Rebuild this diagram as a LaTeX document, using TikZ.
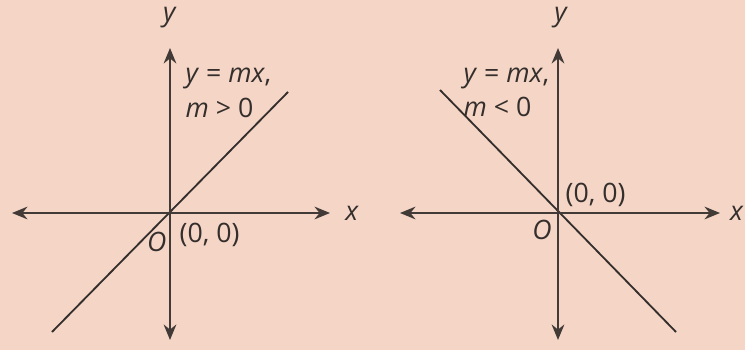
\documentclass[tikz,border=0pt]{standalone}
\usepackage{fontspec}
\setmainfont{Open Sans}
\usepackage{tikz}
\usetikzlibrary{arrows.meta, positioning}
\definecolor{peach}{RGB}{245,214,198}
\definecolor{axisgrey}{RGB}{66,58,55}
\definecolor{inkgrey}{RGB}{52,46,44}

\begin{document}
\begin{tikzpicture}[
    axis/.style={{Stealth[length=11pt,width=9pt]}-{Stealth[length=11pt,width=9pt]}, line width=1.6pt, draw=axisgrey},
    graph/.style={line width=1.3pt, draw=inkgrey},
    lbl/.style={font=\fontsize{19}{22}\selectfont, text=inkgrey, inner sep=1pt}
]
    \fill[peach] (0,0) rectangle (18.625,8.75);
    \useasboundingbox (0,0) rectangle (18.625,8.75);

    % m > 0
    \coordinate (o1) at (4.25,3.425);
    \coordinate (xl1) at (0.3,3.425);
    \coordinate (xr1) at (8.25,3.425);
    \coordinate (yb1) at (4.25,0.25);
    \coordinate (yt1) at (4.25,7.55);
    \coordinate (la1) at (1.3,0.45);
    \coordinate (lb1) at (7.2,6.45);
    \draw[graph] (la1) -- (lb1);
    \draw[axis] (xl1) -- (xr1);
    \draw[axis] (yb1) -- (yt1);
    \node[lbl] (x1) at (8.8,3.425) {\textit{x}};
    \node[lbl] (y1) at (4.25,8.3) {\textit{y}};
    \node[lbl, anchor=west] (eq1) at (4.6,6.8) {\textit{y} = \textit{mx},};
    \node[lbl, anchor=west] (m1) at (4.6,6.05) {\textit{m} > 0};
    \node[lbl, anchor=west] (p1) at (4.45,2.875) {(0, 0)};
    \node[lbl] (O1) at (3.92,2.7) {\textit{O}};

    % m < 0
    \coordinate (o2) at (13.95,3.425);
    \coordinate (xl2) at (10.0,3.425);
    \coordinate (xr2) at (18.0,3.425);
    \coordinate (yb2) at (13.95,0.25);
    \coordinate (yt2) at (13.95,7.55);
    \coordinate (la2) at (11.0,6.5);
    \coordinate (lb2) at (16.9,0.45);
    \draw[graph] (la2) -- (lb2);
    \draw[axis] (xl2) -- (xr2);
    \draw[axis] (yb2) -- (yt2);
    \node[lbl] (x2) at (18.42,3.425) {\textit{x}};
    \node[lbl] (y2) at (14.03,8.3) {\textit{y}};
    \node[lbl, anchor=west] (eq2) at (11.55,6.8) {\textit{y} = \textit{mx},};
    \node[lbl, anchor=west] (m2) at (11.55,6.07) {\textit{m} < 0};
    \node[lbl, anchor=west] (p2) at (14.1,3.875) {(0, 0)};
    \node[lbl] (O2) at (13.55,3.0) {\textit{O}};
\end{tikzpicture}
\end{document}
